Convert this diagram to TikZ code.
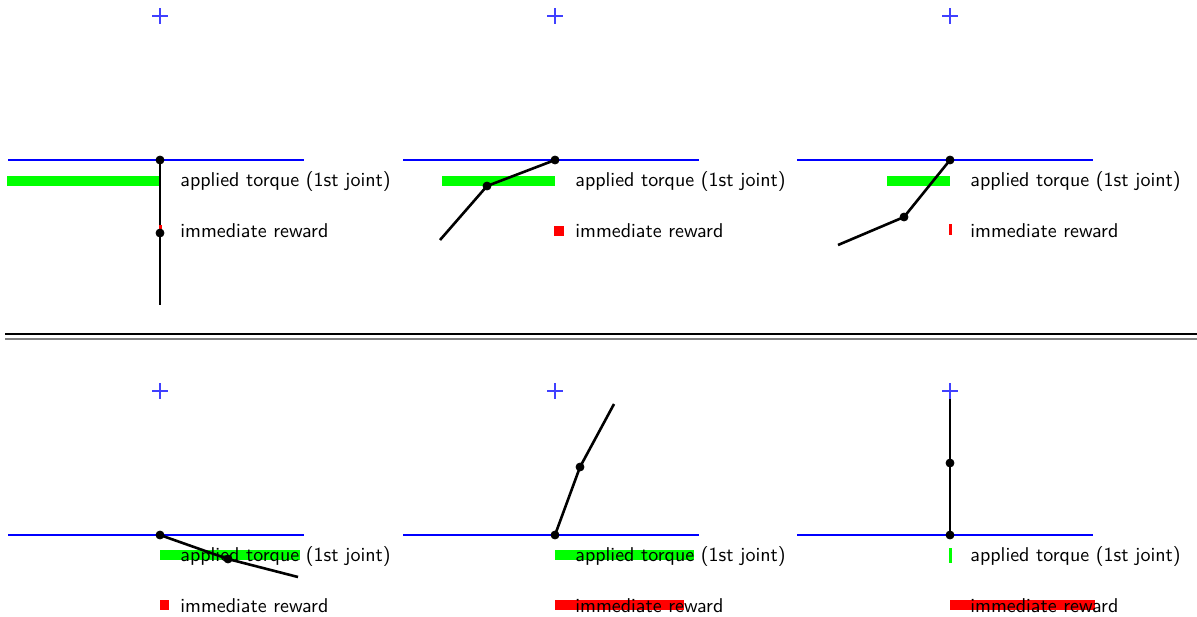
\documentclass[tikz,border=0pt]{standalone}
\usepackage{tikz}
\tikzset{
  rail/.style={blue, line width=1.1pt},
  goal/.style={blue!75, line width=0.6pt},
  link/.style={black, line width=1.3pt},
  torquebar/.style={fill=green},
  rewardbar/.style={fill=red},
  lbl/.style={anchor=west, inner sep=0pt, font=\sffamily},
}

\begin{document}
\begin{tikzpicture}[x=0.5pt, y=-0.5pt]
    \useasboundingbox (0,0) rectangle (1197,616);
    % top row
    \begin{scope}[shift={(160,160)}]
        \draw[rail] (-152,0) -- (144,0);
        \draw[goal] (-8,-144) -- (8,-144) (0,-152) -- (0,-136);
        \fill[torquebar] (-153,16) rectangle (0,26);
        \node[lbl] (tq1) at (20,21) {applied torque (1st joint)};
        \node[lbl] (rw1) at (20,71) {immediate reward};
        \coordinate (p1) at (0,0);
        \coordinate (j1) at (0,73);
        \coordinate (e1) at (0,145);
        \draw[link] (p1) -- (j1) -- (e1);
        \fill[rewardbar] (-1.5,65) rectangle (1.5,73);
        \filldraw[black] (p1) circle (2pt);
        \filldraw[black] (j1) circle (2pt);
    \end{scope}
    \begin{scope}[shift={(555,160)}]
        \draw[rail] (-152,0) -- (144,0);
        \draw[goal] (-8,-144) -- (8,-144) (0,-152) -- (0,-136);
        \fill[torquebar] (-113,16) rectangle (0,26);
        \node[lbl] (tq2) at (20,21) {applied torque (1st joint)};
        \node[lbl] (rw2) at (20,71) {immediate reward};
        \coordinate (p2) at (0,0);
        \coordinate (j2) at (-68,26);
        \coordinate (e2) at (-115,80);
        \draw[link] (p2) -- (j2) -- (e2);
        \fill[rewardbar] (-1,66) rectangle (9,76);
        \filldraw[black] (p2) circle (2pt);
        \filldraw[black] (j2) circle (2pt);
    \end{scope}
    \begin{scope}[shift={(950,160)}]
        \draw[rail] (-153,0) -- (143,0);
        \draw[goal] (-8,-144) -- (8,-144) (0,-152) -- (0,-136);
        \fill[torquebar] (-63,16) rectangle (0,26);
        \node[lbl] (tq3) at (20,21) {applied torque (1st joint)};
        \node[lbl] (rw3) at (20,71) {immediate reward};
        \coordinate (p3) at (0,0);
        \coordinate (j3) at (-46,57);
        \coordinate (e3) at (-112,85);
        \draw[link] (p3) -- (j3) -- (e3);
        \fill[rewardbar] (-1.5,64) rectangle (1.5,75);
        \filldraw[black] (p3) circle (2pt);
        \filldraw[black] (j3) circle (2pt);
    \end{scope}
    % separator
    \draw[black, line width=0.8pt] (5,334) -- (1197,334);
    \draw[gray, line width=0.9pt] (5,339) -- (1197,339);
    % bottom row
    \begin{scope}[shift={(160,535)}]
        \draw[rail] (-152,0) -- (144,0);
        \draw[goal] (-8,-144) -- (8,-144) (0,-152) -- (0,-136);
        \fill[torquebar] (0,15) rectangle (140,25);
        \node[lbl] (tq4) at (20,21) {applied torque (1st joint)};
        \node[lbl] (rw4) at (20,71) {immediate reward};
        \coordinate (p4) at (0,0);
        \coordinate (j4) at (68,24);
        \coordinate (e4) at (138,42);
        \draw[link] (p4) -- (j4) -- (e4);
        \fill[rewardbar] (0,65) rectangle (9,75);
        \filldraw[black] (p4) circle (2pt);
        \filldraw[black] (j4) circle (2pt);
    \end{scope}
    \begin{scope}[shift={(555,535)}]
        \draw[rail] (-152,0) -- (144,0);
        \draw[goal] (-8,-144) -- (8,-144) (0,-152) -- (0,-136);
        \fill[torquebar] (0,15) rectangle (139,25);
        \fill[rewardbar] (0,65) rectangle (129,75);
        \node[lbl] (tq5) at (20,21) {applied torque (1st joint)};
        \node[lbl] (rw5) at (20,71) {immediate reward};
        \coordinate (p5) at (0,0);
        \coordinate (j5) at (25,-68);
        \coordinate (e5) at (59,-131);
        \draw[link] (p5) -- (j5) -- (e5);
        \filldraw[black] (p5) circle (2pt);
        \filldraw[black] (j5) circle (2pt);
    \end{scope}
    \begin{scope}[shift={(950,535)}]
        \draw[rail] (-153,0) -- (143,0);
        \coordinate (p6) at (0,0);
        \coordinate (j6) at (0,-72);
        \coordinate (e6) at (0,-144);
        \draw[link] (p6) -- (j6) -- (e6);
        \draw[goal] (-8,-144) -- (8,-144) (0,-152) -- (0,-136);
        \fill[torquebar] (-1.5,13) rectangle (1.5,28);
        \fill[rewardbar] (0,65) rectangle (145,75);
        \node[lbl] (tq6) at (20,21) {applied torque (1st joint)};
        \node[lbl] (rw6) at (20,71) {immediate reward};
        \filldraw[black] (p6) circle (2pt);
        \filldraw[black] (j6) circle (2pt);
    \end{scope}
\end{tikzpicture}
\end{document}
